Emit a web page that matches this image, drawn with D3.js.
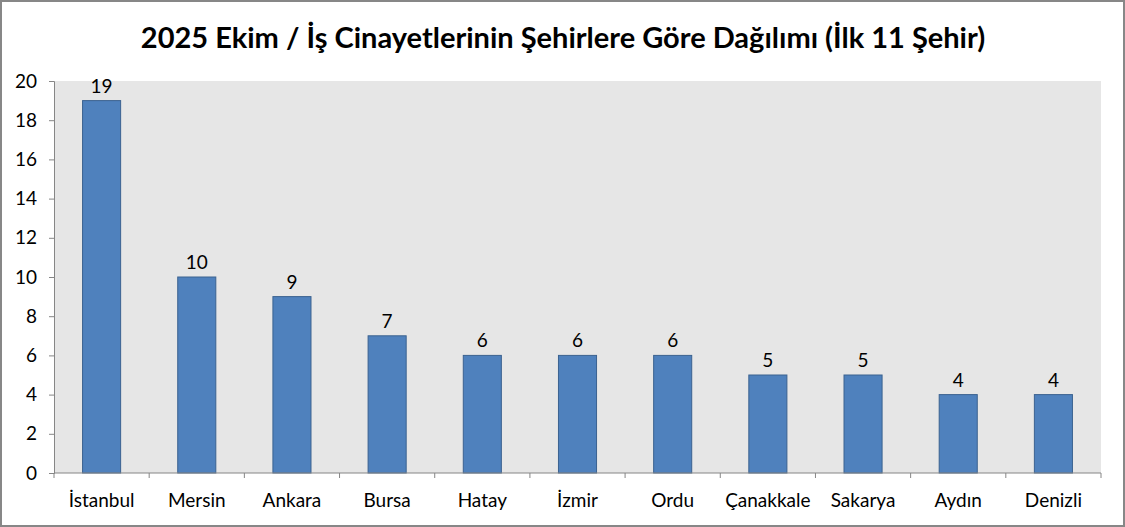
<!DOCTYPE html>
<html><head><meta charset="utf-8">
<script src="https://cdn.jsdelivr.net/npm/d3@7"></script>
<style>body{margin:0;background:#fff}svg{display:block}</style>
</head><body>
<script>
const categories = ["İstanbul","Mersin","Ankara","Bursa","Hatay","İzmir","Ordu","Çanakkale","Sakarya","Aydın","Denizli"];
const values = [19,10,9,7,6,6,6,5,5,4,4];
const yTicks = [0,2,4,6,8,10,12,14,16,18,20];
const title = "2025 Ekim / İş Cinayetlerinin Şehirlere Göre Dağılımı (İlk 11 Şehir)";

const W=1125,H=527;
const m={l:54,r:24,t:81,b:54};
const font="Lato, 'Open Sans', sans-serif";
const fs=19;
const svg=d3.select("body").append("svg").attr("width",W).attr("height",H);
svg.append("rect").attr("x",1).attr("y",1).attr("width",W-2).attr("height",H-2).attr("fill","#fff").attr("stroke","#878787").attr("stroke-width",2);
svg.append("text").attr("x",563).attr("y",48).attr("text-anchor","middle").attr("font-family",font).attr("font-weight","bold").attr("font-size",29).attr("fill","#000").text(title);

const x=d3.scaleBand().domain(categories).range([m.l,W-m.r]).paddingInner(0.6).paddingOuter(0.3);
const y=d3.scaleLinear().domain([0,20]).range([H-m.b,m.t]);
const g=svg.append("g");
g.append("rect").attr("x",m.l).attr("y",m.t).attr("width",W-m.r-m.l).attr("height",H-m.b-m.t).attr("fill","#e6e6e6");

g.selectAll(".bar").data(values).join("rect").attr("class","bar")
 .attr("x",(d,i)=>x(categories[i])).attr("y",d=>y(d)).attr("width",x.bandwidth()).attr("height",d=>y(0)-y(d))
 .attr("fill","#4f81bd").attr("stroke","#3b6290").attr("stroke-width",1);
g.selectAll(".lbl").data(values).join("text").attr("class","lbl")
 .attr("x",(d,i)=>x(categories[i])+x.bandwidth()/2).attr("y",d=>y(d)-8)
 .attr("text-anchor","middle").attr("font-family",font).attr("font-size",fs).attr("fill","#000").text(d=>d);

const ya=d3.axisLeft(y).tickValues(yTicks).tickSize(5).tickPadding(12);
const yg=svg.append("g").attr("transform",`translate(${m.l},0)`).call(ya);
yg.select(".domain").attr("stroke","#868686");
yg.selectAll(".tick line").attr("stroke","#868686");
yg.selectAll("text").attr("font-family",font).attr("font-size",fs).attr("fill","#000");

// x axis with boundary ticks
const step=(W-m.r-m.l)/categories.length;
const xg=svg.append("g");
xg.append("line").attr("x1",m.l).attr("x2",W-m.r).attr("y1",y(0)).attr("y2",y(0)).attr("stroke","#868686");
xg.selectAll(".xt").data(d3.range(categories.length+1)).join("line")
 .attr("x1",i=>m.l+i*step).attr("x2",i=>m.l+i*step).attr("y1",y(0)).attr("y2",y(0)+5).attr("stroke","#868686");
xg.selectAll(".xl").data(categories).join("text")
 .attr("x",d=>x(d)+x.bandwidth()/2).attr("y",y(0)+34).attr("text-anchor","middle")
 .attr("font-family",font).attr("font-size",fs).attr("fill","#000").text(d=>d);
</script>
</body></html>
